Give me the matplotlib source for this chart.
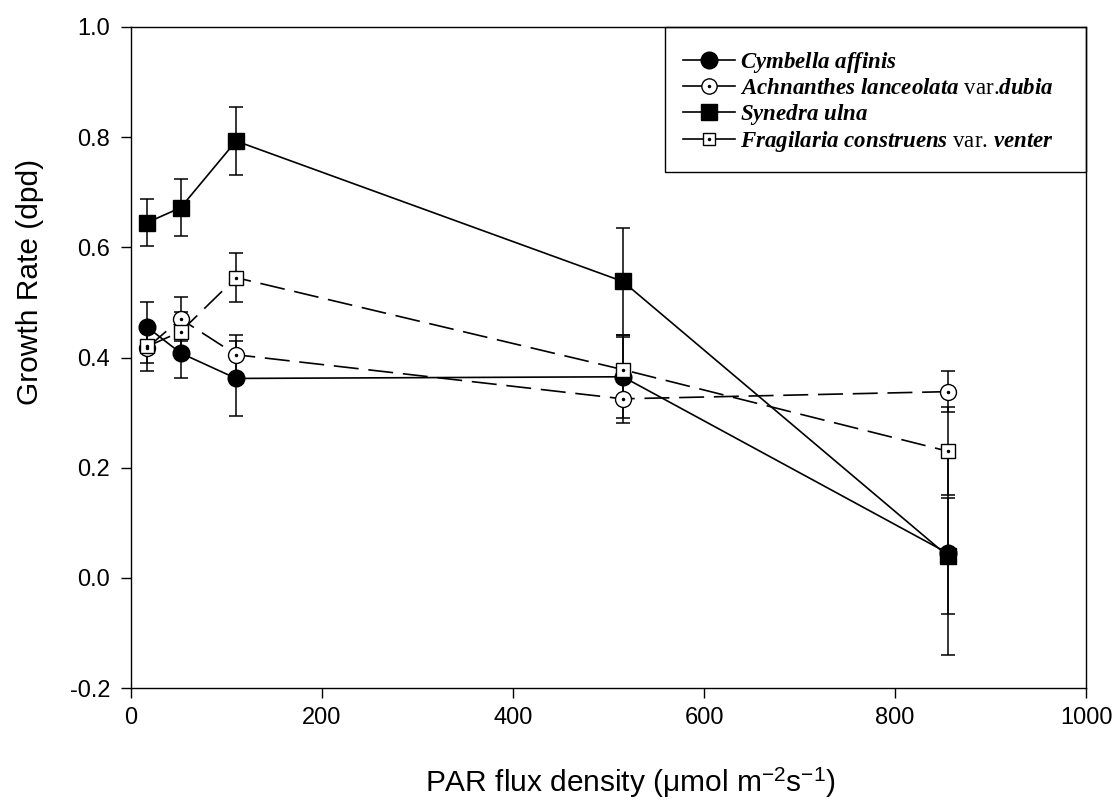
import numpy as np
import matplotlib.pyplot as plt
from matplotlib.patches import Rectangle
from matplotlib.ticker import FormatStrFormatter

plt.rcParams['font.family'] = ['Liberation Sans', 'DejaVu Sans']
plt.rcParams['mathtext.fontset'] = 'custom'
plt.rcParams['mathtext.rm'] = 'Liberation Serif'
plt.rcParams['mathtext.it'] = 'Liberation Serif:italic:bold'
plt.rcParams['mathtext.bf'] = 'Liberation Serif:bold'
plt.rcParams['lines.scale_dashes'] = False

# PAR levels and growth rates (dpd) with standard errors
par = [17, 52, 110, 515, 855]

cymbella = [0.455, 0.408, 0.362, 0.365, 0.045]
cymbella_err = [0.046, 0.046, 0.068, 0.075, 0.185]

achnanthes = [0.418, 0.470, 0.405, 0.325, 0.338]
achnanthes_err = [0.042, 0.040, 0.035, 0.044, 0.037]

synedra = [0.645, 0.672, 0.793, 0.538, 0.040]
synedra_err = [0.043, 0.052, 0.061, 0.097, 0.105]

fragilaria = [0.420, 0.447, 0.545, 0.378, 0.230]
fragilaria_err = [0.030, 0.035, 0.045, 0.060, 0.080]

names = [r'$\mathit{Cymbella\ affinis}$',
         r'$\mathit{Achnanthes\ lanceolata}$ var.$\mathit{dubia}$',
         r'$\mathit{Synedra\ ulna}$',
         r'$\mathit{Fragilaria\ construens}$ var. $\mathit{venter}$']

fig = plt.figure(figsize=(11.17, 8.05), dpi=100)
ax = fig.add_axes([0.1173, 0.1453, 0.855, 0.8212])

dash = (0, (18, 7))
common = dict(color='black', ecolor='black', elinewidth=1.1, capsize=5,
              capthick=1.1, lw=1.2, zorder=3)

ax.errorbar(par, cymbella, yerr=cymbella_err, fmt='o-', mfc='black', markersize=12, **common)
ax.errorbar(par, achnanthes, yerr=achnanthes_err, fmt='o', ls=dash, mfc='white', markersize=11.5, **common)
ax.plot(par, achnanthes, '.', color='black', markersize=3, zorder=4)
ax.errorbar(par, synedra, yerr=synedra_err, fmt='s-', mfc='black', markersize=11.5, **common)
ax.errorbar(par, fragilaria, yerr=fragilaria_err, fmt='s', ls=dash, mfc='white', markersize=9.5, **common)
ax.plot(par, fragilaria, '.', color='black', markersize=3, zorder=4)

ax.set_xlim(0, 1000)
ax.set_ylim(-0.2, 1.0)
ax.set_xticks(np.arange(0, 1001, 200))
ax.set_yticks(np.arange(-0.2, 1.01, 0.2))
ax.yaxis.set_major_formatter(FormatStrFormatter('%.1f'))
ax.tick_params(direction='out', length=7, width=1, labelsize=17)
ax.tick_params(axis='y', pad=8)
ax.tick_params(axis='x', pad=7)
for s in ax.spines.values():
    s.set_linewidth(1.0)

ax.set_ylabel('Growth Rate (dpd)', fontsize=21.5, va='center')
ax.yaxis.set_label_coords(-0.106, 0.614)
ax.set_xlabel(r'PAR flux density ($\mathregular{\mu}$mol m$^{\mathregular{-2}}$s$^{\mathregular{-1}}$)',
              fontsize=21.5, va='center')
ax.xaxis.set_label_coords(0.523, -0.144)

# legend box sits in the upper right corner, sharing the axes frame
ax.add_patch(Rectangle((0.559, 0.781), 0.441, 0.219, transform=ax.transAxes,
                       fill=False, edgecolor='black', lw=1.0, zorder=5, clip_on=False))

l1, = ax.plot([], [], 'o-', color='black', mfc='black', markersize=12, lw=1.2)
l2, = ax.plot([], [], 'o-', color='black', mfc='white', markersize=11, lw=1.2)
l3, = ax.plot([], [], 's-', color='black', mfc='black', markersize=11, lw=1.2)
l4, = ax.plot([], [], 's-', color='black', mfc='white', markersize=9, lw=1.2)
dl, = ax.plot([], [], '.', color='black', markersize=3)

leg = ax.legend([l1, (l2, dl), l3, (l4, dl)], names,
                loc='upper left', bbox_to_anchor=(0.578, 0.965),
                borderaxespad=0, borderpad=0, frameon=False,
                handlelength=2.27, handletextpad=0.22, labelspacing=0.12,
                prop={'family': 'Liberation Serif', 'size': 16.5})

fig.savefig('out.png', dpi=100)
